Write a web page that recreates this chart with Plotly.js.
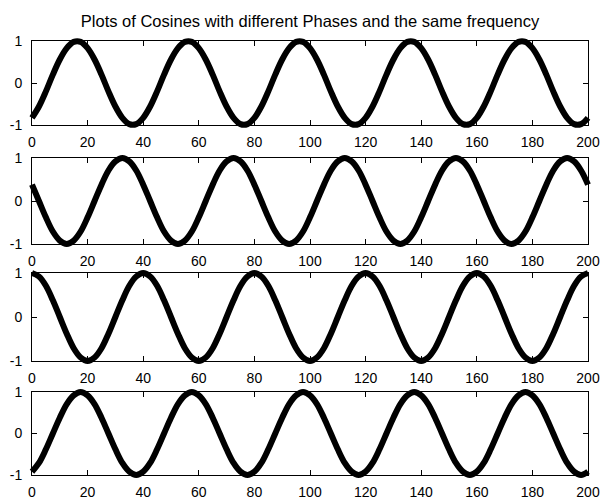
<!DOCTYPE html>
<html>
<head>
<meta charset="utf-8">
<script src="https://cdn.plot.ly/plotly-3.0.1.min.js"></script>
<style>html,body{margin:0;padding:0;background:#fff;}#chart{width:603px;height:500px;}</style>
</head>
<body>
<div id="chart"></div>
<script>
const titleText = 'Plots of Cosines with different Phases and the same frequency';

const xValues = [0,2.5,5,7.5,10,12.5,15,17.5,20,22.5,25,27.5,30,32.5,35,37.5,40,42.5,45,47.5,50,52.5,55,57.5,60,62.5,65,67.5,70,72.5,75,77.5,80,82.5,85,87.5,90,92.5,95,97.5,100,102.5,105,107.5,110,112.5,115,117.5,120,122.5,125,127.5,130,132.5,135,137.5,140,142.5,145,147.5,150,152.5,155,157.5,160,162.5,165,167.5,170,172.5,175,177.5,180,182.5,185,187.5,190,192.5,195,197.5,200];

const phaseA = [-0.83,-0.56,-0.2,0.2,0.56,0.83,0.98,0.98,0.83,0.56,0.2,-0.2,-0.56,-0.83,-0.98,-0.98,
  -0.83,-0.56,-0.2,0.2,0.56,0.83,0.98,0.98,0.83,0.56,0.2,-0.2,-0.56,-0.83,-0.98,-0.98,
  -0.83,-0.56,-0.2,0.2,0.56,0.83,0.98,0.98,0.83,0.56,0.2,-0.2,-0.56,-0.83,-0.98,-0.98,
  -0.83,-0.56,-0.2,0.2,0.56,0.83,0.98,0.98,0.83,0.56,0.2,-0.2,-0.56,-0.83,-0.98,-0.98,
  -0.83,-0.56,-0.2,0.2,0.56,0.83,0.98,0.98,0.83,0.56,0.2,-0.2,-0.56,-0.83,-0.98,-0.98,
  -0.83];

const phaseB = [0.38,0,-0.38,-0.71,-0.92,-1,-0.92,-0.71,-0.38,0,0.38,0.71,0.92,1,0.92,0.71,
  0.38,0,-0.38,-0.71,-0.92,-1,-0.92,-0.71,-0.38,0,0.38,0.71,0.92,1,0.92,0.71,
  0.38,0,-0.38,-0.71,-0.92,-1,-0.92,-0.71,-0.38,0,0.38,0.71,0.92,1,0.92,0.71,
  0.38,0,-0.38,-0.71,-0.92,-1,-0.92,-0.71,-0.38,0,0.38,0.71,0.92,1,0.92,0.71,
  0.38,0,-0.38,-0.71,-0.92,-1,-0.92,-0.71,-0.38,0,0.38,0.71,0.92,1,0.92,0.71,
  0.38];

const phaseC = [1,0.92,0.71,0.38,0,-0.38,-0.71,-0.92,-1,-0.92,-0.71,-0.38,0,0.38,0.71,0.92,
  1,0.92,0.71,0.38,0,-0.38,-0.71,-0.92,-1,-0.92,-0.71,-0.38,0,0.38,0.71,0.92,
  1,0.92,0.71,0.38,0,-0.38,-0.71,-0.92,-1,-0.92,-0.71,-0.38,0,0.38,0.71,0.92,
  1,0.92,0.71,0.38,0,-0.38,-0.71,-0.92,-1,-0.92,-0.71,-0.38,0,0.38,0.71,0.92,
  1,0.92,0.71,0.38,0,-0.38,-0.71,-0.92,-1,-0.92,-0.71,-0.38,0,0.38,0.71,0.92,
  1];

const phaseD = [-0.92,-0.71,-0.38,0,0.38,0.71,0.92,1,0.92,0.71,0.38,0,-0.38,-0.71,-0.92,-1,
  -0.92,-0.71,-0.38,0,0.38,0.71,0.92,1,0.92,0.71,0.38,0,-0.38,-0.71,-0.92,-1,
  -0.92,-0.71,-0.38,0,0.38,0.71,0.92,1,0.92,0.71,0.38,0,-0.38,-0.71,-0.92,-1,
  -0.92,-0.71,-0.38,0,0.38,0.71,0.92,1,0.92,0.71,0.38,0,-0.38,-0.71,-0.92,-1,
  -0.92,-0.71,-0.38,0,0.38,0.71,0.92,1,0.92,0.71,0.38,0,-0.38,-0.71,-0.92,-1,
  -0.92];

const xTickVals = [0,20,40,60,80,100,120,140,160,180,200];
const xTickText = ['0','20','40','60','80','100','120','140','160','180','200'];
const yTickVals = [-1,0,1];
const yTickText = ['-1','0','1'];

const series = [phaseA, phaseB, phaseC, phaseD];

// layout geometry (pixels)
const W = 603, H = 500;
const boxL = 32, boxR = 588;
const boxes = [[41,125],[158,244],[273,361],[392,475]];
const pad = 6; // room for the thick line to spill over the box
const xMin = 0, xMax = 200, yMin = -1, yMax = 1;

const font = {family: '"Liberation Sans", Arial, sans-serif', size: 14, color: '#000'};
const layout = {
  width: W, height: H,
  margin: {l: 0, r: 0, t: 0, b: 0, pad: 0},
  paper_bgcolor: '#fff', plot_bgcolor: 'rgba(0,0,0,0)',
  showlegend: false,
  font: font,
  title: {text: titleText, font: {family: '"Liberation Sans", Arial, sans-serif', size: 16.5, color: '#000'},
          x: (boxL + boxR) / 2 / W, xanchor: 'center', xref: 'paper',
          y: 1 - 21 / H, yanchor: 'middle', yref: 'container'}
};
const traces = [];
const xpx = (boxR - boxL) / (xMax - xMin);
const sfx = function (n) { return n === 1 ? '' : String(n); };

// box (axes) subplots first
boxes.forEach(function (b, i) {
  const top = b[0], bot = b[1];
  const k = sfx(i + 1);
  layout['xaxis' + k] = {
    domain: [boxL / W, boxR / W], range: [xMin, xMax], anchor: 'y' + k,
    showline: true, linecolor: '#000', linewidth: 1, mirror: 'ticks',
    ticks: 'inside', ticklen: 5, tickwidth: 1, tickcolor: '#000',
    tickmode: 'array', tickvals: xTickVals, ticktext: xTickText,
    showgrid: false, zeroline: false, tickfont: font, ticklabelstandoff: 4, fixedrange: true
  };
  layout['yaxis' + k] = {
    domain: [(H - bot) / H, (H - top) / H], range: [yMin, yMax], anchor: 'x' + k,
    showline: true, linecolor: '#000', linewidth: 1, mirror: 'ticks',
    ticks: 'inside', ticklen: 5, tickwidth: 1, tickcolor: '#000',
    tickmode: 'array', tickvals: yTickVals, ticktext: yTickText,
    showgrid: false, zeroline: false, tickfont: font, ticklabelstandoff: 6, fixedrange: true
  };
  traces.push({type: 'scatter', mode: 'lines', x: [], y: [], xaxis: 'x' + k, yaxis: 'y' + k, hoverinfo: 'skip'});
});

// data subplots on top, slightly larger so the thick line can spill over the box
boxes.forEach(function (b, i) {
  const top = b[0], bot = b[1];
  const d = String(i + 5);
  const ypx = (bot - top) / (yMax - yMin);
  layout['xaxis' + d] = {
    domain: [(boxL - pad) / W, (boxR + pad) / W],
    range: [xMin - pad / xpx, xMax + pad / xpx], anchor: 'y' + d, visible: false, fixedrange: true
  };
  layout['yaxis' + d] = {
    domain: [(H - bot - pad) / H, (H - top + pad) / H],
    range: [yMin - pad / ypx, yMax + pad / ypx], anchor: 'x' + d, visible: false, fixedrange: true
  };
  traces.push({
    type: 'scatter', mode: 'lines', x: xValues, y: series[i],
    xaxis: 'x' + d, yaxis: 'y' + d,
    line: {color: '#000', width: 6, shape: 'spline', smoothing: 1},
    hoverinfo: 'skip'
  });
});

Plotly.newPlot('chart', traces, layout, {staticPlot: true, displayModeBar: false});
</script>
</body>
</html>
